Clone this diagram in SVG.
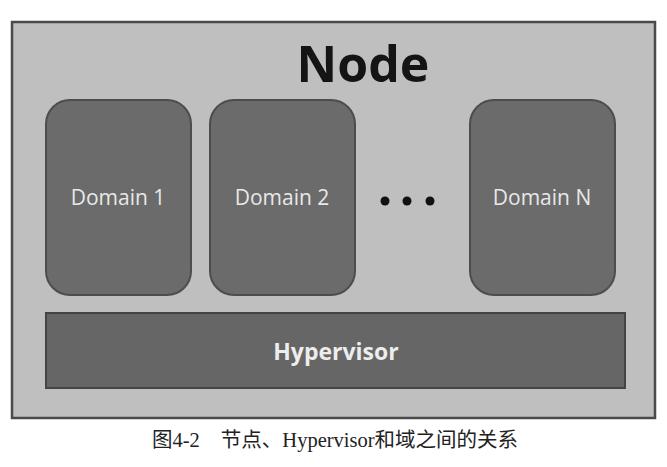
<svg xmlns="http://www.w3.org/2000/svg" width="667" height="467" viewBox="0 0 667 467">
<style>
.domain{fill:#6b6b6b;stroke:#4d4d4d;stroke-width:2}
.dlabel{font-family:"Open Sans","Liberation Sans",sans-serif;font-size:21px;fill:#e8e8e8;text-anchor:middle}
.dot{fill:#111}
</style>
<rect width="667" height="467" fill="#ffffff"/>
<g id="node">
<rect x="12" y="22" width="643" height="396" fill="#bfbfbf" stroke="#4a4a4a" stroke-width="2.5"/>
<text x="363" y="82" font-family="'Open Sans','Liberation Sans',sans-serif" font-weight="700" font-size="50" fill="#141414" text-anchor="middle">Node</text>
</g>
<g id="domain1">
<rect class="domain" x="46" y="100" width="145" height="195" rx="24"/>
<text class="dlabel" x="118" y="205">Domain 1</text>
</g>
<g id="domain2">
<rect class="domain" x="210" y="100" width="145" height="195" rx="24"/>
<text class="dlabel" x="282" y="205">Domain 2</text>
</g>
<g id="ellipsis">
<circle class="dot" cx="385" cy="201" r="4.5"/>
<circle class="dot" cx="407" cy="201" r="4.5"/>
<circle class="dot" cx="430" cy="201" r="4.5"/>
</g>
<g id="domainN">
<rect class="domain" x="470" y="100" width="145" height="195" rx="24"/>
<text class="dlabel" x="542" y="205">Domain N</text>
</g>
<g id="hypervisor">
<rect x="46" y="313" width="579" height="75" fill="#666666" stroke="#444444" stroke-width="2"/>
<text x="336" y="360" font-family="'Open Sans','Liberation Sans',sans-serif" font-weight="700" font-size="23" fill="#ededed" text-anchor="middle">Hypervisor</text>
</g>
<g id="connectors"></g>
<text x="152" y="447" font-family="'Liberation Serif','Noto Sans CJK SC',serif" font-size="20.5" fill="#222">图4-2<tspan dx="21">节点、Hypervisor和域之间的关系</tspan></text>
</svg>
